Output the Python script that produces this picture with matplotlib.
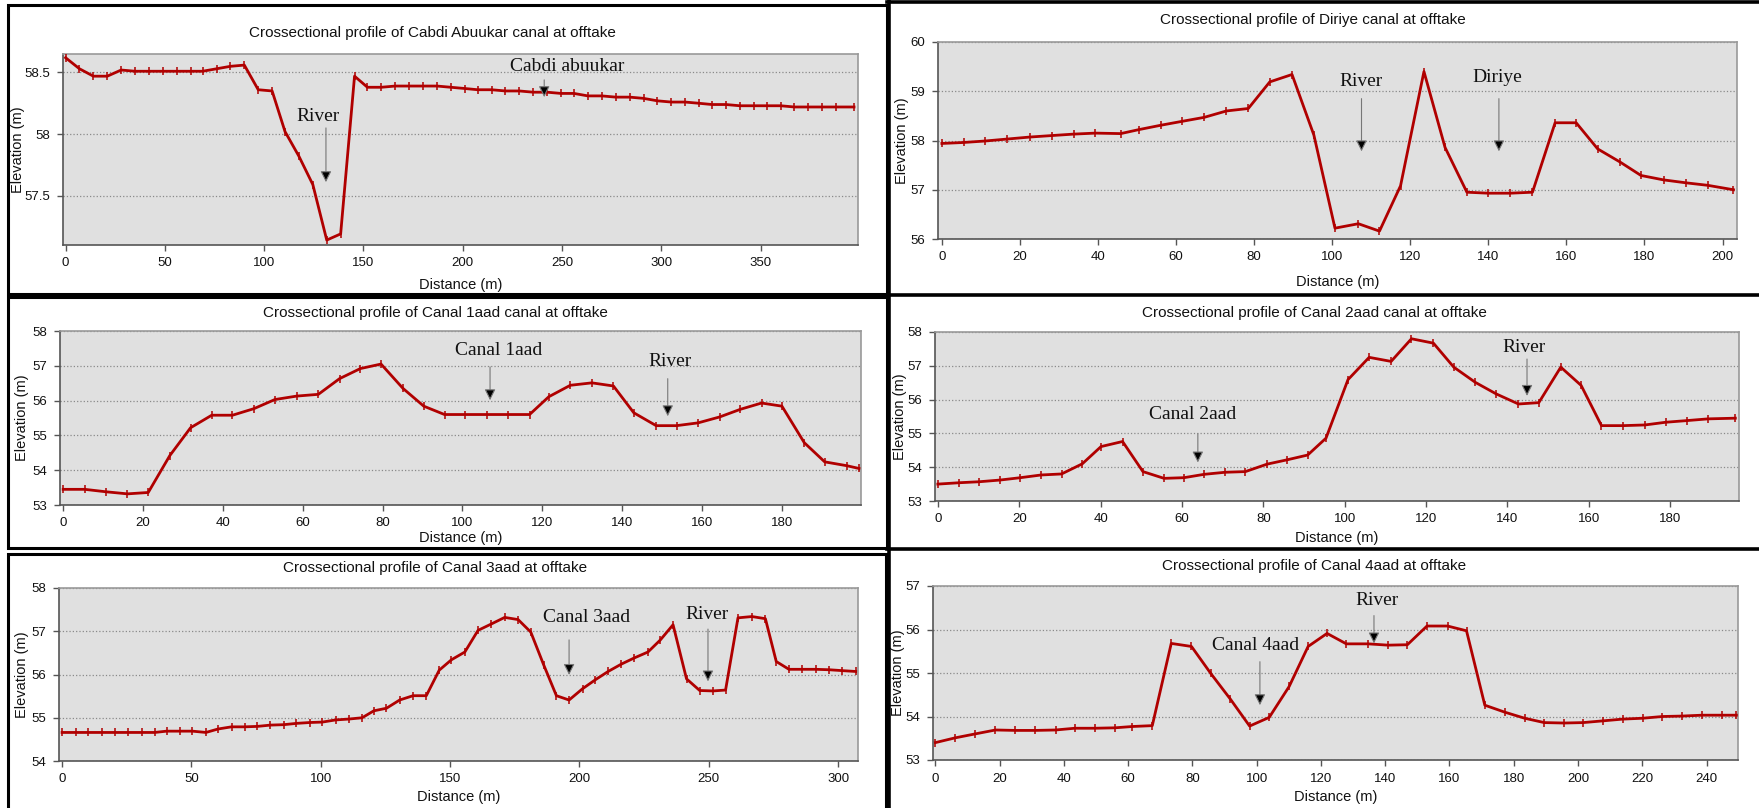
import matplotlib
matplotlib.use('Agg')
import matplotlib.pyplot as plt
from matplotlib import font_manager
from matplotlib.patches import Rectangle
from matplotlib.lines import Line2D
from matplotlib.ticker import FuncFormatter

W, H = 1759, 808

# cross-section profiles (distance m, elevation m)
dist_cabdi = [0, 7, 14, 21, 28, 35, 42, 49, 56, 63, 69, 76, 83, 90, 97, 104, 110.5, 117.5, 124.5, 131.5,
              138.5, 145.5, 152, 159, 166, 173, 180, 187, 194, 201, 207.5, 214.5, 221.5, 228.5, 235.5, 242.5,
              249.5, 256, 263, 270, 277, 284, 291, 298, 305, 312, 319, 325.5, 332.5, 339.5, 346.5, 353, 360,
              367, 374, 381, 388, 397]
elev_cabdi = [58.62, 58.53, 58.47, 58.47, 58.52, 58.51, 58.51, 58.51, 58.51, 58.51, 58.51, 58.53, 58.55, 58.56,
              58.36, 58.35, 58.02, 57.82, 57.59, 57.14, 57.19, 58.47, 58.38, 58.38, 58.39, 58.39, 58.39, 58.39,
              58.38, 58.37, 58.36, 58.36, 58.35, 58.35, 58.34, 58.34, 58.33, 58.33, 58.31, 58.31, 58.30, 58.30,
              58.29, 58.27, 58.26, 58.26, 58.25, 58.24, 58.24, 58.23, 58.23, 58.23, 58.23, 58.22, 58.22, 58.22,
              58.22, 58.22]

dist_diriye = [0, 5.6, 11.1, 16.8, 22.5, 28.1, 33.8, 39.3, 45.8, 50.4, 56.1, 61.6, 67.2, 72.9, 78.5, 84, 89.7,
               95.3, 100.7, 106.7, 112.1, 117.5, 123.5, 128.9, 134.5, 140, 145.6, 151.3, 157.1, 162.5, 168,
               173.8, 179.1, 184.9, 190.7, 196.2, 202.8]
elev_diriye = [57.94, 57.96, 57.99, 58.03, 58.07, 58.10, 58.13, 58.15, 58.14, 58.22, 58.31, 58.39, 58.47, 58.60,
               58.65, 59.19, 59.34, 58.11, 56.22, 56.31, 56.16, 57.08, 59.40, 57.86, 56.95, 56.93, 56.93, 56.95,
               58.36, 58.36, 57.83, 57.56, 57.29, 57.20, 57.14, 57.09, 57.00]

dist_c1 = [0, 5.4, 10.7, 16.1, 21.3, 26.7, 31.9, 37.2, 42.4, 47.8, 53, 58.5, 63.9, 69.2, 74.4, 79.6, 85.1, 90.3,
           95.5, 100.7, 106.1, 111.3, 116.8, 121.6, 127, 132.4, 137.8, 142.9, 148.5, 153.6, 159, 164.4, 169.6,
           174.9, 180, 185.6, 190.7, 196.2, 199.3]
elev_c1 = [53.45, 53.45, 53.38, 53.32, 53.36, 54.42, 55.22, 55.58, 55.58, 55.77, 56.03, 56.13, 56.18, 56.63,
           56.92, 57.05, 56.35, 55.84, 55.6, 55.6, 55.6, 55.6, 55.6, 56.11, 56.44, 56.51, 56.42, 55.65, 55.28,
           55.28, 55.36, 55.53, 55.75, 55.93, 55.84, 54.79, 54.24, 54.13, 54.05]

dist_c2 = [0, 5.2, 10.2, 15.3, 20.3, 25.4, 30.4, 35.5, 40.1, 45.4, 50.4, 55.6, 60.5, 65.5, 70.6, 75.6, 80.9, 85.9,
           90.9, 95.4, 100.8, 106, 111.4, 116.4, 121.8, 126.8, 132.1, 137.2, 142.7, 147.7, 153.1, 158.1, 163.1,
           168.5, 173.8, 178.9, 184.2, 189.3, 196]
elev_c2 = [53.50, 53.54, 53.57, 53.62, 53.69, 53.77, 53.80, 54.10, 54.61, 54.76, 53.87, 53.67, 53.69, 53.79,
           53.85, 53.87, 54.09, 54.22, 54.36, 54.86, 56.59, 57.25, 57.13, 57.80, 57.67, 56.96, 56.51, 56.17,
           55.87, 55.91, 56.96, 56.42, 55.23, 55.23, 55.25, 55.33, 55.38, 55.43, 55.45]

dist_c3 = [0, 5.3, 10.2, 15.5, 20.6, 25.5, 30.7, 35.8, 40.4, 45.5, 50.4, 55.6, 60.3, 65.5, 70.6, 75.5, 80.5, 85.7,
           90.6, 95.8, 100.6, 105.8, 110.9, 116, 120.5, 125.4, 130.5, 135.7, 140.8, 145.8, 150.5, 155.7, 160.8,
           166, 171.1, 176.3, 181.2, 186.2, 191.1, 196, 201.2, 206.2, 211.1, 216.2, 221.1, 226.5, 231.3, 236.2,
           241.4, 246.5, 251.6, 256.5, 261.3, 266.7, 271.9, 276.1, 281, 286.2, 291.3, 296.5, 301.5, 306.8]
elev_c3 = [54.66, 54.66, 54.66, 54.66, 54.66, 54.66, 54.66, 54.66, 54.69, 54.69, 54.69, 54.66, 54.74, 54.79,
           54.79, 54.80, 54.83, 54.84, 54.87, 54.89, 54.90, 54.95, 54.97, 55.00, 55.16, 55.22, 55.41, 55.51,
           55.51, 56.10, 56.34, 56.52, 57.02, 57.17, 57.32, 57.27, 56.98, 56.22, 55.51, 55.41, 55.67, 55.88,
           56.07, 56.24, 56.38, 56.52, 56.80, 57.15, 55.90, 55.63, 55.62, 55.64, 57.31, 57.34, 57.29, 56.30,
           56.12, 56.12, 56.12, 56.11, 56.09, 56.07]

dist_c4 = [0, 6.2, 12.4, 18.7, 24.9, 31.1, 37.4, 43.4, 49.6, 55.9, 61.3, 67.5, 73.4, 79.7, 85.7, 91.8, 97.8,
           103.9, 110.1, 116, 121.9, 127.9, 134.7, 140.9, 146.9, 153, 159.4, 165.3, 171, 177.2, 183.4, 189.5,
           195.7, 201.6, 207.8, 213.9, 220.1, 226.3, 232.4, 238.6, 244.7, 249.3]
elev_c4 = [53.40, 53.51, 53.60, 53.69, 53.68, 53.68, 53.69, 53.73, 53.73, 53.74, 53.77, 53.79, 55.68, 55.61,
           54.99, 54.40, 53.78, 53.98, 54.69, 55.61, 55.91, 55.67, 55.67, 55.64, 55.65, 56.08, 56.08, 55.97,
           54.26, 54.10, 53.96, 53.86, 53.85, 53.86, 53.90, 53.94, 53.96, 54.00, 54.01, 54.03, 54.03, 54.03]

titles = ['Crossectional profile of Cabdi Abuukar canal at offtake',
          'Crossectional profile of Diriye canal at offtake',
          'Crossectional profile of Canal 1aad canal at offtake',
          'Crossectional profile of Canal 2aad canal at offtake',
          'Crossectional profile of Canal 3aad at offtake',
          'Crossectional profile of Canal 4aad at offtake']

# labelled arrows: (text, text x, text y, arrow x, arrow start y, arrow tip y) in data units
notes = [
    [('River', 127.3, 58.14, 131.1, 58.05, 57.61), ('Cabdi abuukar', 252.5, 58.55, 241, 58.44, 58.30)],
    [('River', 107.5, 59.2, 107.5, 58.85, 57.78), ('Diriye', 142.2, 59.27, 142.7, 58.85, 57.78)],
    [('Canal 1aad', 109, 57.45, 106.9, 56.97, 56.01), ('River', 152, 57.11, 151.4, 56.63, 55.55)],
    [('Canal 2aad', 62.7, 55.55, 63.9, 54.99, 54.14), ('River', 144.1, 57.53, 144.8, 57.2, 56.11)],
    [('Canal 3aad', 202.7, 57.31, 196, 56.80, 55.99), ('River', 249.5, 57.38, 249.7, 57.05, 55.84)],
    [('Canal 4aad', 99.6, 55.64, 101, 55.26, 54.26), ('River', 137.5, 56.66, 136.5, 56.32, 55.68)],
]

profiles = [(dist_cabdi, elev_cabdi), (dist_diriye, elev_diriye), (dist_c1, elev_c1),
            (dist_c2, elev_c2), (dist_c3, elev_c3), (dist_c4, elev_c4)]

# layout in pixels: axes box (left, top, right, bottom), title centre, ylabel x, xlabel y
layout = [
    ((63, 54, 858, 245), (432, 33), 18, 285),
    ((938, 42, 1737, 239), (1313, 20), 902, 282),
    ((60, 331, 861, 505), (435, 313), 22, 538),
    ((935, 332, 1739, 501), (1314, 313), 900, 538),
    ((59, 588, 858, 761), (435, 568), 22, 797),
    ((933, 586, 1738, 760), (1314, 566), 898, 797),
]
xlims = [(-1.3, 399), (-1, 203.7), (-0.8, 199.8), (-0.7, 196.9), (-1.2, 307.7), (-0.75, 249.8)]
ylims = [(57.1, 58.65), (56, 60), (53, 58), (53, 58), (54, 58), (53, 57)]
xsteps = [50, 20, 20, 20, 50, 20]
yticks = [[57.5, 58, 58.5], [56, 57, 58, 59, 60], [53, 54, 55, 56, 57, 58],
          [53, 54, 55, 56, 57, 58], [54, 55, 56, 57, 58], [53, 54, 55, 56, 57]]

names = {f.name for f in font_manager.fontManager.ttflist}
if 'Liberation Sans Narrow' in names:
    sans, k = 'Liberation Sans Narrow', 1.2
else:
    sans, k = 'Liberation Sans', 1.0
plt.rcParams['font.family'] = sans

fig = plt.figure(figsize=(W / 100, H / 100), dpi=100)
fig.patch.set_facecolor('white')

red = '#b00000'
for i in range(6):
    (l, t, r, b), (tx, ty), ylx, xly = layout[i]
    ax = fig.add_axes([l / W, 1 - b / H, (r - l) / W, (b - t) / H])
    ax.set_facecolor('#e0e0e0')
    d, e = profiles[i]
    ax.plot(d, e, color=red, lw=2.0, marker='|', ms=6, mew=1.1, zorder=3)
    ax.set_xlim(*xlims[i])
    ax.set_ylim(*ylims[i])
    ax.set_xticks(list(range(0, int(xlims[i][1]) + 1, xsteps[i])))
    ax.set_yticks(yticks[i])
    ax.yaxis.set_major_formatter(FuncFormatter(lambda v, p: '%g' % v))
    ax.grid(axis='y', color='#8a8a8a', ls=':', lw=0.9)
    ax.tick_params(length=4, width=1, color='#555555', labelsize=9.5 * k, pad=5, labelcolor='#111111')
    for s in ['left', 'bottom']:
        ax.spines[s].set_color('#555555')
    for s in ['top', 'right']:
        ax.spines[s].set_color('#999999')
    for s in ax.spines.values():
        s.set_linewidth(1.2)

    ax.set_xlabel('Distance (m)', fontsize=10.5 * k, color='#111111')
    ax.set_ylabel('Elevation (m)', fontsize=10.5 * k, color='#111111')
    ax.xaxis.label.set_va('center')
    ax.yaxis.label.set_va('center')
    ax.xaxis.set_label_coords(0.5, -(xly - b) / (b - t))
    ax.yaxis.set_label_coords(-(l - ylx) / (r - l), 0.5)

    fig.text(tx / W, 1 - ty / H, titles[i], ha='center', va='center', fontsize=11 * k, color='#111111')

    for label, lx, ly, axx, ay0, ay1 in notes[i]:
        ax.text(lx, ly, label, ha='center', va='center', fontsize=14,
                family='Liberation Serif', color='#111111', zorder=5)
        ax.annotate('', xy=(axx, ay1), xytext=(axx, ay0),
                    arrowprops=dict(arrowstyle='-|>,head_length=0.6,head_width=0.3',
                                    mutation_scale=11, lw=0.8, ec='#777777', fc='black',
                                    shrinkA=0, shrinkB=0), zorder=5)

# panel frames as in the source figure
def frame(x0, y0, x1, y1):
    fig.add_artist(Rectangle((x0 / W, 1 - y1 / H), (x1 - x0) / W, (y1 - y0) / H,
                             transform=fig.transFigure, fill=False, ec='black', lw=2.2))

def hline(y, x0, x1):
    fig.add_artist(Line2D([x0 / W, x1 / W], [1 - y / H, 1 - y / H], transform=fig.transFigure,
                          color='black', lw=2.6))

frame(8, 5, 887, 294)
frame(8, 297, 887, 548)
frame(8, 554, 886, 812)
hline(1.5, 887, W)
hline(295, 887, W)
hline(549, 887, W)
fig.add_artist(Line2D([889 / W, 889 / W], [0, 1], transform=fig.transFigure, color='black', lw=2.6))

fig.savefig('out.png', dpi=100)
